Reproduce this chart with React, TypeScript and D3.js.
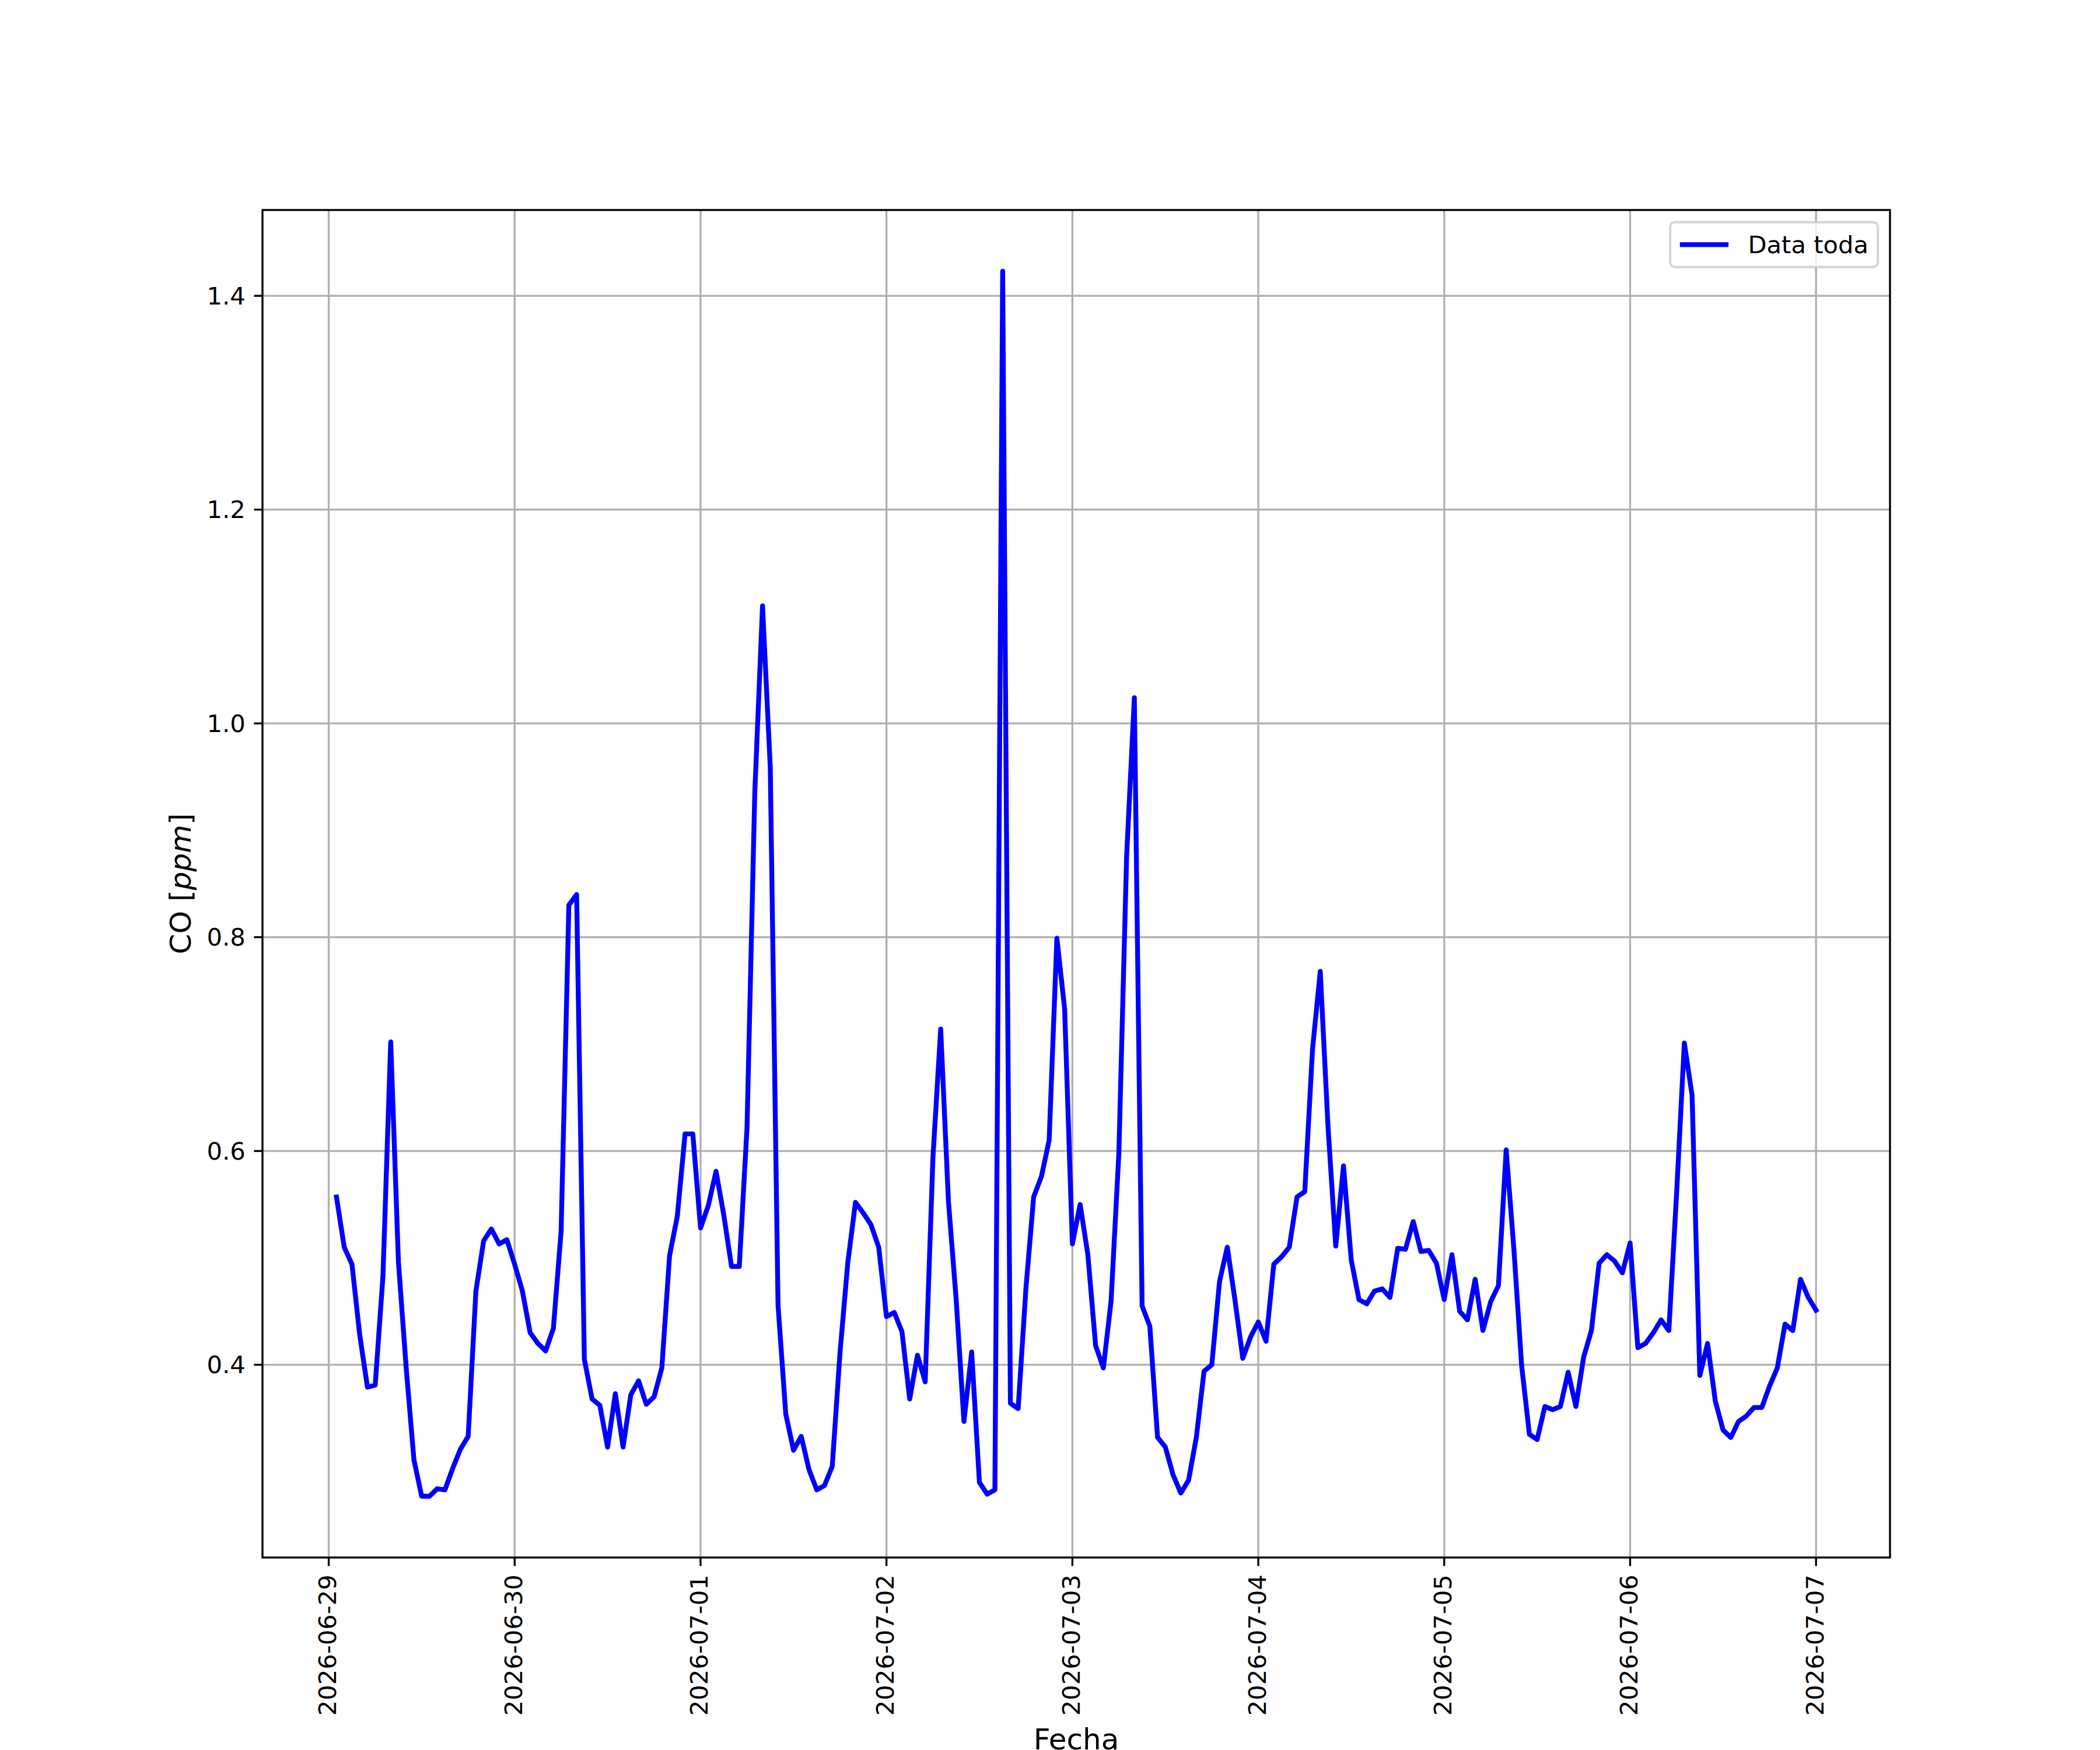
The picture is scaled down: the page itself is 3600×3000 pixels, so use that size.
import React, { useEffect, useRef } from 'react';
import * as d3 from 'd3';

// hourly CO readings, one array per day (the first day starts at 01:00)
const DAYS = [
  '2026-06-29', '2026-06-30', '2026-07-01', '2026-07-02', '2026-07-03',
  '2026-07-04', '2026-07-05', '2026-07-06', '2026-07-07',
];
const START_HOURS = [1, 0, 0, 0, 0, 0, 0, 0, 0];

const co0629 = [0.557, 0.510, 0.494, 0.428, 0.379, 0.381, 0.483, 0.702, 0.496, 0.397, 0.311, 0.277,
  0.277, 0.284, 0.283, 0.303, 0.321, 0.333, 0.469, 0.516, 0.527, 0.513, 0.517];
const co0630 = [0.494, 0.469, 0.430, 0.420, 0.413, 0.434, 0.525, 0.830, 0.840, 0.405, 0.368, 0.362,
  0.323, 0.373, 0.323, 0.372, 0.385, 0.363, 0.370, 0.397, 0.502, 0.539, 0.616, 0.616];
const co0701 = [0.528, 0.549, 0.581, 0.540, 0.492, 0.492, 0.622, 0.935, 1.110, 0.959, 0.456, 0.354,
  0.320, 0.333, 0.302, 0.283, 0.287, 0.305, 0.411, 0.495, 0.552, 0.542, 0.531, 0.510];
const co0702 = [0.445, 0.449, 0.431, 0.368, 0.409, 0.384, 0.594, 0.714, 0.553, 0.461, 0.347, 0.412,
  0.290, 0.279, 0.283, 1.423, 0.364, 0.359, 0.471, 0.557, 0.576, 0.610, 0.799, 0.733];
const co0703 = [0.513, 0.550, 0.503, 0.418, 0.397, 0.460, 0.598, 0.875, 1.024, 0.455, 0.436, 0.332,
  0.323, 0.297, 0.280, 0.292, 0.332, 0.394, 0.400, 0.478, 0.510, 0.460, 0.406, 0.426];
const co0704 = [0.440, 0.422, 0.494, 0.501, 0.510, 0.557, 0.562, 0.695, 0.768, 0.623, 0.511, 0.586,
  0.498, 0.461, 0.457, 0.469, 0.471, 0.463, 0.509, 0.508, 0.534, 0.506, 0.507, 0.495];
const co0705 = [0.461, 0.503, 0.450, 0.442, 0.480, 0.432, 0.459, 0.474, 0.601, 0.508, 0.399, 0.335,
  0.330, 0.361, 0.358, 0.361, 0.393, 0.361, 0.407, 0.432, 0.495, 0.503, 0.497, 0.486];
const co0706 = [0.514, 0.416, 0.420, 0.430, 0.442, 0.432, 0.560, 0.701, 0.652, 0.390, 0.420, 0.366,
  0.339, 0.332, 0.347, 0.352, 0.360, 0.360, 0.380, 0.397, 0.438, 0.432, 0.480, 0.463];
const co0707 = [0.451];

const DAILY = [co0629, co0630, co0701, co0702, co0703, co0704, co0705, co0706, co0707];

const Y_TICKS = [0.4, 0.6, 0.8, 1.0, 1.2, 1.4];
const SERIES_LABEL = 'Data toda';

const W = 3600;
const H = 3000;
const PT = 300 / 72;
const FONT = 'DejaVu Sans';

const App: React.FC = () => {
  const ref = useRef<SVGSVGElement | null>(null);

  useEffect(() => {
    if (!ref.current) return;
    const svg = d3.select(ref.current);
    svg.selectAll('*').remove();

    const left = 0.125 * W;
    const right = 0.9 * W;
    const top = 0.12 * H;
    const bottom = 0.89 * H;

    const data = DAILY.flatMap((vals, di) =>
      vals.map((v, i) => ({
        t: new Date(`${DAYS[di]}T00:00:00Z`).getTime() + (START_HOURS[di] + i) * 3600e3,
        v,
      })),
    );

    const [t0, t1] = d3.extent(data, (d) => d.t) as [number, number];
    const [v0, v1] = d3.extent(data, (d) => d.v) as [number, number];
    const tPad = (t1 - t0) * 0.05;
    const vPad = (v1 - v0) * 0.05;

    const x = d3.scaleLinear().domain([t0 - tPad, t1 + tPad]).range([left, right]);
    const y = d3.scaleLinear().domain([v0 - vPad, v1 + vPad]).range([bottom, top]);

    const dayTimes = DAYS.map((d) => new Date(`${d}T00:00:00Z`).getTime());

    svg.append('rect').attr('width', W).attr('height', H).attr('fill', '#ffffff');

    // grid
    const grid = svg.append('g').attr('stroke', '#b0b0b0').attr('stroke-width', 0.8 * PT);
    dayTimes.forEach((t) => {
      grid.append('line').attr('x1', x(t)).attr('x2', x(t)).attr('y1', top).attr('y2', bottom);
    });
    Y_TICKS.forEach((v) => {
      grid.append('line').attr('x1', left).attr('x2', right).attr('y1', y(v)).attr('y2', y(v));
    });

    // data line
    const line = d3.line<{ t: number; v: number }>().x((d) => x(d.t)).y((d) => y(d.v));
    svg.append('path')
      .datum(data)
      .attr('d', line)
      .attr('fill', 'none')
      .attr('stroke', '#0000ff')
      .attr('stroke-width', 2 * PT)
      .attr('stroke-linejoin', 'round')
      .attr('stroke-linecap', 'square');

    // spines
    svg.append('rect')
      .attr('x', left).attr('y', top)
      .attr('width', right - left).attr('height', bottom - top)
      .attr('fill', 'none').attr('stroke', '#000').attr('stroke-width', 0.8 * PT);

    const tickLen = 3.5 * PT;
    const pad = 3.5 * PT;
    const fs = 10 * PT;
    const fmt = d3.format('.1f');

    // y ticks
    const yt = svg.append('g');
    Y_TICKS.forEach((v) => {
      yt.append('line')
        .attr('x1', left - tickLen).attr('x2', left)
        .attr('y1', y(v)).attr('y2', y(v))
        .attr('stroke', '#000').attr('stroke-width', 0.8 * PT);
      yt.append('text')
        .attr('x', left - tickLen - pad)
        .attr('y', y(v))
        .attr('text-anchor', 'end')
        .attr('dominant-baseline', 'central')
        .attr('font-family', FONT)
        .attr('font-size', fs)
        .text(fmt(v));
    });

    // x ticks
    const xt = svg.append('g');
    dayTimes.forEach((t, i) => {
      xt.append('line')
        .attr('x1', x(t)).attr('x2', x(t))
        .attr('y1', bottom).attr('y2', bottom + tickLen)
        .attr('stroke', '#000').attr('stroke-width', 0.8 * PT);
      xt.append('text')
        .attr('transform', `translate(${x(t) - 2},${bottom + tickLen + pad}) rotate(-90)`)
        .attr('text-anchor', 'end')
        .attr('dominant-baseline', 'central')
        .attr('font-family', FONT)
        .attr('font-size', fs)
        .text(DAYS[i]);
    });

    // axis labels
    svg.append('text')
      .attr('x', (left + right) / 2)
      .attr('y', 2999)
      .attr('text-anchor', 'middle')
      .attr('font-family', FONT)
      .attr('font-size', 12 * PT)
      .text('Fecha');

    const yl = svg.append('text')
      .attr('transform', `translate(327,${(top + bottom) / 2}) rotate(-90)`)
      .attr('text-anchor', 'middle')
      .attr('font-family', FONT)
      .attr('font-size', 12 * PT);
    yl.append('tspan').text('CO [');
    yl.append('tspan').attr('font-style', 'italic').text('ppm');
    yl.append('tspan').text(']');

    // legend
    const lbW = 356;
    const lbH = 77;
    const lbX = right - 0.5 * fs - lbW;
    const lbY = top + 0.5 * fs;
    const lg = svg.append('g');
    lg.append('rect')
      .attr('x', lbX).attr('y', lbY)
      .attr('width', lbW).attr('height', lbH)
      .attr('rx', 0.2 * fs).attr('ry', 0.2 * fs)
      .attr('fill', '#ffffff').attr('fill-opacity', 0.8)
      .attr('stroke', '#cccccc').attr('stroke-opacity', 0.8)
      .attr('stroke-width', 1 * PT);
    const cy = lbY + lbH / 2;
    const hx = lbX + 0.4 * fs;
    lg.append('line')
      .attr('x1', hx).attr('x2', hx + 2 * fs)
      .attr('y1', cy).attr('y2', cy)
      .attr('stroke', '#0000ff').attr('stroke-width', 2 * PT);
    lg.append('text')
      .attr('x', hx + 2.8 * fs)
      .attr('y', cy)
      .attr('dominant-baseline', 'central')
      .attr('font-family', FONT)
      .attr('font-size', fs)
      .text(SERIES_LABEL);
  }, []);

  return (
    <svg
      ref={ref}
      width={W}
      height={H}
      style={{ position: 'absolute', left: 0, top: 0 }}
    />
  );
};

export default App;
